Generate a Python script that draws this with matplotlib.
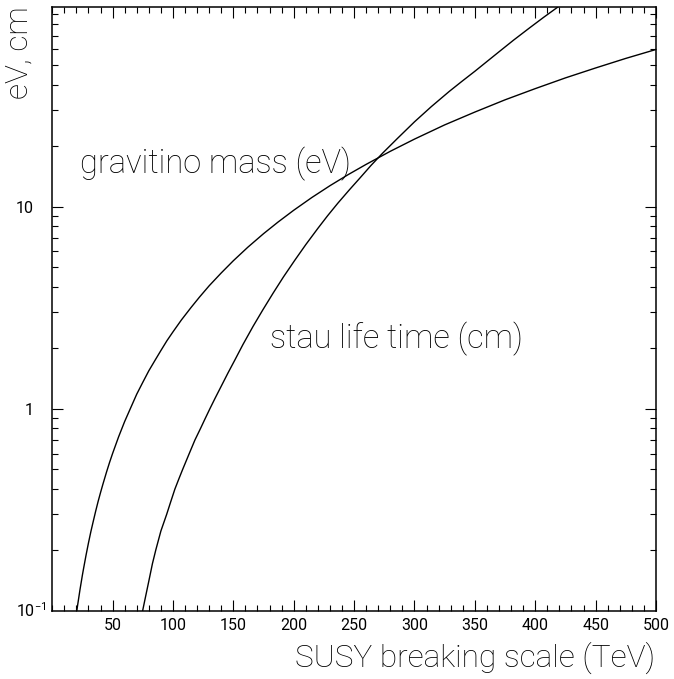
import matplotlib
matplotlib.use('Agg')
import matplotlib.pyplot as plt
from matplotlib.ticker import MultipleLocator, LogLocator, NullFormatter

plt.rcParams['font.family'] = ['Roboto', 'DejaVu Sans']
plt.rcParams['mathtext.default'] = 'regular'

# SUSY breaking scale (TeV) vs gravitino mass (eV)
gravitino_x = [20, 21, 22, 23, 24, 25, 26, 28, 30, 32, 34, 36, 38, 40, 42, 45, 47.5,
               50, 55, 60, 65, 70, 75, 80, 85, 90, 95, 100, 107, 115, 122, 130, 140,
               150, 162, 175, 187, 200, 215, 230, 245, 260, 280, 300, 325, 350, 375,
               400, 425, 450, 475, 500]
gravitino_mass = [0.096, 0.106, 0.116, 0.127, 0.138, 0.150, 0.162, 0.188, 0.216,
                  0.246, 0.277, 0.311, 0.347, 0.384, 0.423, 0.486, 0.542, 0.60,
                  0.726, 0.864, 1.01, 1.18, 1.35, 1.54, 1.73, 1.94, 2.17, 2.40,
                  2.75, 3.17, 3.57, 4.06, 4.70, 5.40, 6.30, 7.35, 8.39, 9.60, 11.1,
                  12.7, 14.4, 16.2, 18.8, 21.6, 25.4, 29.4, 33.8, 38.4, 43.4, 48.6,
                  54.2, 60.0]

# SUSY breaking scale (TeV) vs stau life time (cm)
stau_x = [74.9, 77.0, 80.0, 83.0, 85.8, 90.0, 94.8, 98.0, 101.6, 105.0, 108.0,
          113.5, 118.2, 122.9, 126.5, 130.6, 135.0, 140.2, 145.5, 151.0, 158.0,
          166.4, 174.5, 182.9, 191.5, 200.8, 210.0, 220.0, 228.0, 236.5, 246.0,
          255.0, 264.0, 273.6, 286.0, 300.0, 314.0, 328.8, 339.0, 350.0, 360.0,
          370.1, 382.0, 395.0, 407.0, 419.1, 425.0]
stau_ctau = [0.100, 0.115, 0.140, 0.171, 0.20, 0.248, 0.30, 0.344, 0.40, 0.451,
             0.50, 0.60, 0.70, 0.80, 0.889, 1.00, 1.13, 1.30, 1.50, 1.73, 2.08,
             2.56, 3.09, 3.73, 4.49, 5.42, 6.49, 7.81, 9.01, 10.4, 12.1, 13.9,
             16.0, 18.4, 21.8, 26.3, 31.3, 37.2, 41.6, 46.8, 52.3, 58.5, 66.7,
             76.5, 86.6, 97.7, 103.0]

x_ticks = [50, 100, 150, 200, 250, 300, 350, 400, 450, 500]
y_ticks = [1, 10]
y_tick_labels = ['1', '10']


def style_axes(ax):
    ax.set_xlim(0, 500)
    ax.set_yscale('log')
    ax.set_ylim(0.1, 97.7)

    ax.set_xticks(x_ticks)
    ax.xaxis.set_minor_locator(MultipleLocator(10))
    ax.set_yticks(y_ticks)
    ax.set_yticklabels(y_tick_labels)
    ax.yaxis.set_minor_locator(LogLocator(base=10, subs=range(2, 10)))
    ax.yaxis.set_minor_formatter(NullFormatter())

    ax.tick_params(which='both', direction='in', top=True, right=True,
                   width=0.8, color='black')
    ax.tick_params(which='major', length=8, labelsize=11.5)
    ax.tick_params(axis='x', which='major', pad=5)
    ax.tick_params(axis='y', which='major', pad=13.5)
    ax.tick_params(which='minor', length=4.3)

    for s in ax.spines.values():
        s.set_linewidth(1.1)

    # 10^-1 label sits a bit off the other ones in the original
    ax.text(-0.0086, -0.0099, r'$10^{-1}$', transform=ax.transAxes,
            ha='right', va='baseline', fontsize=11.5)


fig = plt.figure(figsize=(6.74, 6.79), dpi=100)
ax = fig.add_axes([52.2 / 674, 68.3 / 679, 603.8 / 674, 604 / 679])

ax.plot(gravitino_x, gravitino_mass, color='black', lw=1.0)
ax.plot(stau_x, stau_ctau, color='black', lw=1.0)

style_axes(ax)

ax.text(23, 14.7, 'gravitino mass (eV)', fontsize=23.5, fontweight='light',
        va='baseline')
ax.text(180, 2.0, 'stau life time (cm)', fontsize=23.5, fontweight='light',
        va='baseline')

fig.text(655 / 674, 1 - 667 / 679, 'SUSY breaking scale (TeV)', fontsize=22.8,
         fontweight='light', ha='right', va='baseline')
fig.text(34 / 674, 1 - 6.7 / 679, 'eV, cm', fontsize=22.8, fontweight='light',
         rotation=90, ha='right', va='top')

plt.savefig('out.png', dpi=100)
plt.close(fig)
